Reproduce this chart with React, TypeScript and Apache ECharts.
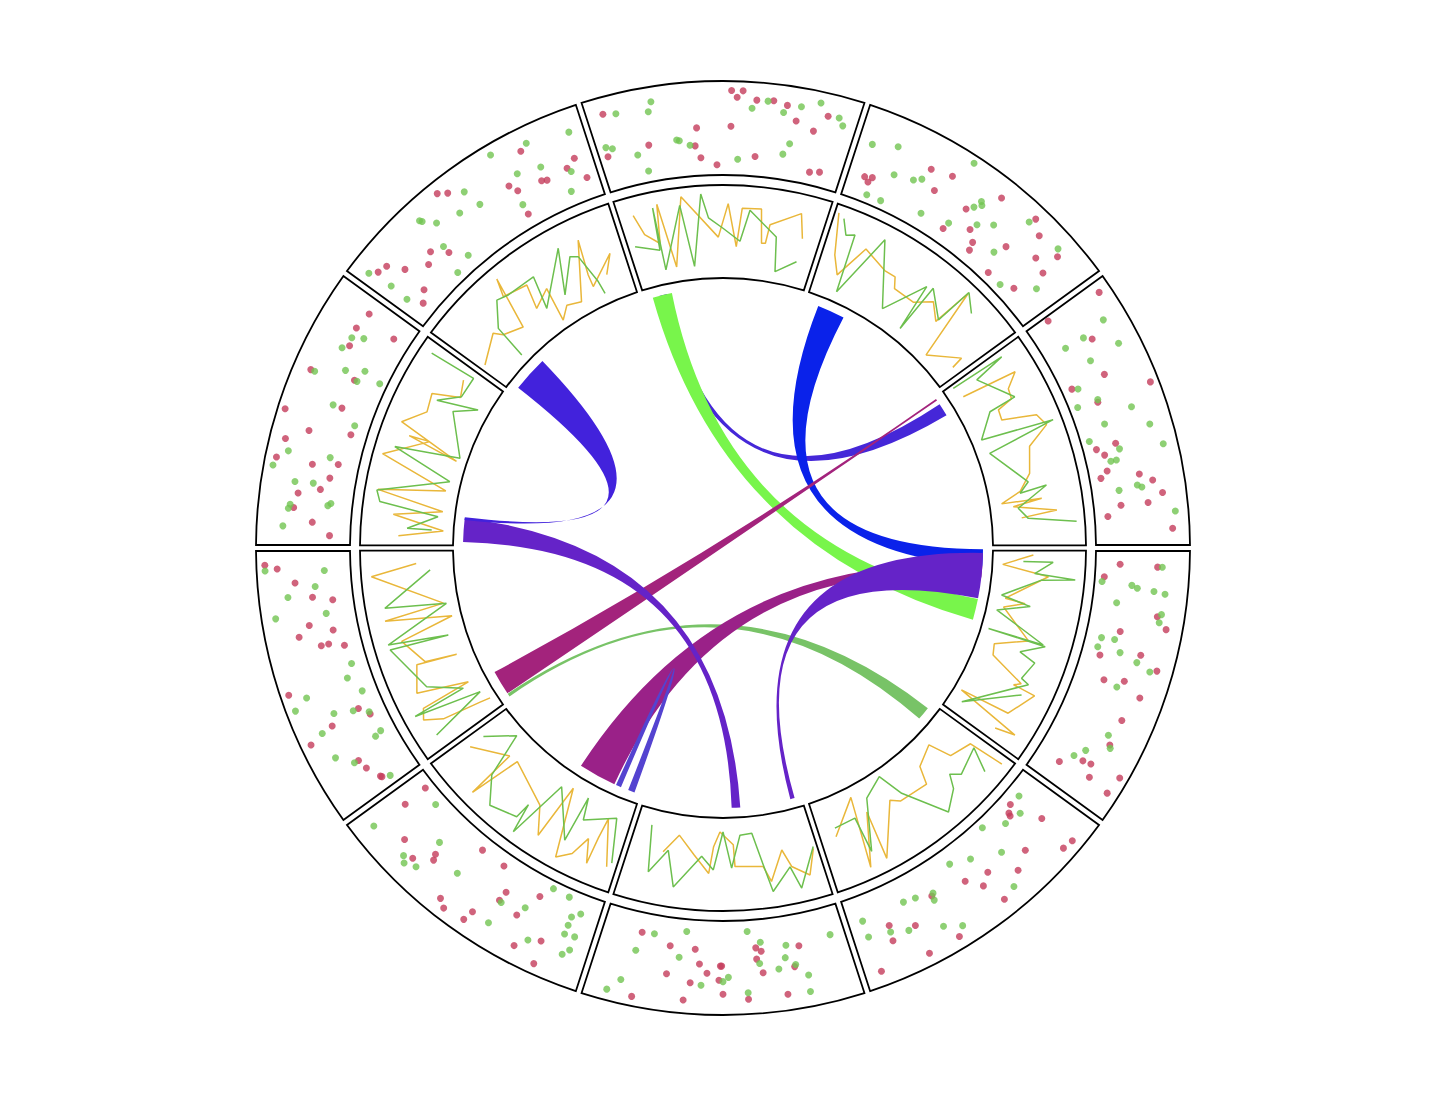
import React, { useEffect, useRef } from 'react';
import * as echarts from 'echarts';

// ---- layout of the ideogram: 10 equal segments, first one centred on top ----
const SEGMENTS = ['s1', 's2', 's3', 's4', 's5', 's6', 's7', 's8', 's9', 's10'];
const SEGMENT_LENGTH = 100;
const FIRST_SEGMENT_START = -18; // degrees, clockwise from 12 o'clock
const SEGMENT_SWEEP = 36;

// ---- outer track: scatter [position, value] per segment ----
const redDots: number[][][] = [
  [[7,0.82],[53,0.9],[57,0.9],[55,0.83],[62,0.81],[68,0.82],[73,0.79],[88,0.76],[77,0.64],[84,0.57],[40,0.51],[53,0.52],[21,0.39],[39,0.32],[4.5,0.37],[41,0.19],[47.5,0.11],[63,0.21],[86,0.135],[90,0.16]],
  [[8,0.26],[11,0.28],[10,0.22],[30,0.63],[38,0.68],[35,0.45],[57,0.79],[49,0.47],[46,0.16],[55,0.32],[59,0.23],[60,0.145],[71,0.86],[76,0.76],[70,0.43],[81,0.57],[86,0.75],[87,0.52],[72,0.1],[84,0.18]],
  [[5,0.87],[3,0.25],[18,0.545],[32,0.49],[41,0.91],[32,0.11],[41,0.31],[58.5,0.355],[59,0.14],[62,0.21],[68.5,0.2],[71,0.12],[72,0.53],[75,0.66],[80,0.745],[83,0.58],[83,0.29],[87,0.14],[93,0.82]],
  [[6.5,0.26],[7,0.66],[12,0.1],[25,0.71],[29,0.825],[33,0.35],[44,0.2],[40,0.62],[44,0.83],[53,0.32],[51,0.53],[55,0.745],[65,0.655],[75,0.65],[90,0.27],[85,0.48],[84.5,0.57],[89,0.63],[83.6,0.91],[90.4,0.88]],
  [[19,0.18],[19.5,0.21],[12,0.48],[16,0.13],[25,0.58],[15,0.86],[11,0.88],[41,0.485],[32,0.68],[50,0.415],[45.5,0.57],[42.5,0.82],[64,0.35],[84,0.42],[75,0.54],[85,0.585],[63,0.87],[75,0.87],[93,0.84]],
  [[20,0.34],[37,0.3],[35,0.34],[37,0.42],[23,0.55],[35,0.57],[50,0.78],[41,0.84],[27,0.83],[50.5,0.48],[83,0.21],[71,0.3],[61,0.31],[59,0.465],[51,0.48],[56,0.56],[71,0.6],[62,0.67],[51.5,0.63],[82,0.9],[64,0.86]],
  [[92,0.1],[92,0.375],[82,0.625],[75,0.7],[69,0.56],[70,0.5],[57,0.14],[46,0.14],[58,0.82],[55,0.88],[47,0.85],[46,0.73],[39.5,0.36],[40,0.47],[31.5,0.51],[27,0.22],[27,0.81],[19,0.64],[18,0.89]],
  [[94,0.91],[92.5,0.78],[87,0.6],[81,0.43],[79,0.22],[70.5,0.51],[67,0.27],[67,0.64],[62,0.43],[62,0.35],[60,0.19],[48,0.91],[34,0.27],[30,0.18],[32,0.6],[29,0.89],[16,0.52],[12,0.49],[6,0.4],[6.5,0.41]],
  [[93,0.545],[86,0.58],[79,0.55],[90,0.18],[65,0.81],[68,0.34],[56,0.35],[49,0.92],[44,0.61],[47,0.17],[39,0.83],[32,0.88],[32,0.49],[34,0.22],[28,0.28],[23,0.36],[20.5,0.59],[15,0.62],[10,0.41],[5,0.22]],
  [[75,0.77],[92,0.47],[88,0.4],[94,0.23],[77,0.39],[79,0.37],[65,0.505],[67,0.415],[66,0.145],[42,0.875],[45,0.81],[26,0.46],[31,0.32],[22,0.38],[11,0.7],[7.4,0.73],[14.5,0.53],[13.4,0.235],[9,0.15]],
];
const greenDots: number[][][] = [
  [[11.5,0.79],[24.5,0.84],[23,0.74],[60.5,0.72],[66,0.81],[72,0.71],[78,0.8],[84.5,0.88],[92,0.77],[94,0.7],[32,0.4],[33,0.39],[37,0.33],[4.7,0.47],[7,0.44],[16,0.31],[76,0.39],[74,0.27],[56,0.17],[19,0.12]],
  [[6.4,0.61],[15.5,0.69],[42,0.92],[18.4,0.4],[26,0.44],[28.7,0.49],[11.5,0.09],[17.8,0.09],[35,0.17],[51,0.535],[52,0.63],[53,0.6],[46.6,0.24],[56,0.405],[61,0.515],[70,0.79],[68,0.3],[84,0.81],[79,0.1],[90,0.36]],
  [[14,0.75],[16,0.47],[16,0.25],[24,0.77],[25,0.42],[33,0.17],[40,0.32],[40,0.09],[47,0.63],[50,0.3],[55,0.76],[55,0.09],[61,0.38],[65,0.26],[65,0.32],[63,0.845],[76,0.49],[77,0.535],[77,0.29],[87,0.86]],
  [[7,0.71],[14,0.08],[14.5,0.4],[15.4,0.46],[16,0.64],[16.6,0.76],[22,0.26],[24,0.75],[27,0.74],[37,0.17],[36.5,0.31],[41,0.155],[41,0.4],[43,0.6],[45,0.76],[54,0.475],[72,0.59],[76,0.67],[81,0.45],[85,0.37]],
  [[11,0.14],[16,0.27],[23,0.23],[31,0.09],[32,0.42],[43,0.26],[51,0.17],[37,0.78],[63,0.33],[64,0.4],[70,0.28],[75,0.26],[93,0.27],[93,0.45],[84.5,0.49],[78,0.555],[66,0.69],[60,0.79]],
  [[40,0.12],[7,0.3],[35,0.245],[25,0.31],[26,0.44],[22.5,0.53],[36,0.47],[29,0.55],[18.5,0.665],[48,0.6],[50,0.645],[41,0.77],[19,0.84],[78,0.2],[65,0.13],[84,0.41],[67,0.41],[87,0.75],[91,0.885],[58,0.69]],
  [[84,0.13],[93,0.78],[72,0.38],[78,0.75],[76,0.8],[72,0.74],[59,0.5],[23.5,0.08],[16,0.09],[39,0.48],[30,0.4],[39,0.735],[12,0.275],[9,0.21],[12,0.37],[12,0.47],[8,0.46],[23.5,0.69],[8,0.61],[10,0.68]],
  [[92,0.91],[91,0.28],[85,0.39],[82,0.69],[74,0.31],[75,0.85],[52,0.17],[47,0.26],[40,0.16],[45,0.74],[42,0.9],[36,0.53],[34,0.33],[31,0.18],[31,0.73],[22,0.16],[21,0.235],[21,0.72],[16,0.57],[4.6,0.32]],
  [[82,0.57],[84,0.455],[77,0.61],[65,0.765],[70,0.47],[73,0.28],[68,0.31],[71,0.08],[56,0.45],[51,0.16],[35,0.77],[29,0.9],[36,0.32],[24.5,0.64],[25,0.445],[17,0.26],[18,0.23],[16,0.66],[14.5,0.675],[8,0.72]],
  [[93.5,0.75],[78,0.82],[65,0.89],[79,0.525],[89,0.35],[70,0.575],[50,0.715],[52,0.51],[66,0.26],[44,0.565],[86,0.155],[31,0.78],[31.5,0.755],[35,0.64],[31,0.405],[36,0.16],[5,0.8],[28,0.1],[6.4,0.53],[6.1,0.31]],
];

// ---- middle track: two line series [position, value] per segment ----
const yellowLine: number[][][] = [
  [[8,0.8],[11,0.57],[17.6,0.44],[19.7,0.86],[24,0.16],[31,0.9],[47.6,0.44],[52.4,0.8],[57,0.34],[59,0.755],[68,0.765],[70,0.4],[72,0.405],[73,0.61],[86.7,0.79],[90,0.53]],
  [[3,0.91],[8,0.47],[13,0.28],[21,0.66],[34,0.55],[40,0.55],[43,0.44],[55,0.44],[62.5,0.58],[70,0.44],[72,0.9],[79,0.11],[93,0.375],[94,0.24]],
  [[10.6,0.15],[13.6,0.765],[19,0.61],[24,0.59],[26,0.41],[31.5,0.395],[36,0.76],[42,0.82],[49,0.57],[62,0.49],[70,0.35],[75,0.13],[75.4,0.565],[77.5,0.25],[82,0.71],[84,0.325]],
  [[3.6,0.435],[9.3,0.11],[14,0.61],[28,0.18],[29,0.4],[33,0.18],[47,0.53],[54,0.19],[60,0.22],[68,0.62],[70,0.55],[70.5,0.805],[83.6,0.64],[85.4,0.08],[90.7,0.825],[93,0.605]],
  [[90.6,0.43],[74.6,0.11],[81,0.88],[70.6,0.33],[72.7,0.87],[57,0.35],[52.7,0.42],[36.8,0.45],[33.3,0.26],[21.4,0.16],[17.7,0.41],[6.5,0.49],[4.9,0.89]],
  [[3.5,0.47],[8.6,0.735],[16.2,0.6],[19.4,0.405],[27,0.72],[30,0.55],[44,0.525],[44.5,0.29],[51.7,0.15],[55,0.31],[57,0.6],[65,0.41],[74,0.22],[81,0.425]],
  [[94,0.555],[77,0.3],[77,0.86],[72,0.285],[48.5,0.49],[41,0.77],[38.7,0.14],[29,0.875],[23,0.76],[19,0.54],[15,0.79],[14.6,0.49],[13.7,0.26],[5.7,0.745]],
  [[92,0.4],[87,0.89],[69,0.16],[66,0.815],[61,0.1],[55,0.695],[42,0.525],[39.6,0.18],[42,0.62],[29.5,0.74],[23,0.19],[21.8,0.75],[17,0.81],[12.7,0.62],[10,0.19],[9,0.075]],
  [[91.4,0.42],[82.8,0.35],[77.7,0.64],[68.6,0.6],[59.6,0.81],[50,0.11],[54.7,0.68],[55.4,0.45],[43,0.895],[32.3,0.14],[26.8,0.86],[20.5,0.135],[16.2,0.66],[9.7,0.11],[6,0.59]],
  [[4.3,0.325],[19.6,0.48],[22.6,0.39],[33,0.3],[38.7,0.875],[35.7,0.685],[48,0.625],[44.8,0.36],[55,0.47],[52.7,0.09],[59,0.2],[67,0.15],[80,0.755],[77,0.37],[76.7,0.235],[91.7,0.49],[86,0.29]],
];
const greenLine: number[][][] = [
  [[4.8,0.47],[16.8,0.37],[17.5,0.83],[17.8,0.15],[30,0.81],[34,0.14],[40,0.91],[43,0.65],[50,0.535],[58.8,0.4],[62.7,0.74],[77,0.49],[79.6,0.12],[90,0.275]],
  [[6,0.87],[9.6,0.71],[13.5,0.75],[16.4,0.11],[27,0.84],[43.5,0.19],[55.4,0.66],[58,0.13],[58.3,0.69],[70.5,0.47],[72,0.91],[79.6,0.77]],
  [[3.5,0.11],[4.3,0.73],[6.9,0.37],[23.9,0.63],[24.9,0.32],[37,0.11],[41,0.905],[45.7,0.14],[66,0.455],[71,0.345],[69.4,0.64],[78.7,0.3],[84.6,0.395],[88,0.91]],
  [[7.2,0.33],[6.9,0.65],[13,0.46],[14.4,0.9],[16,0.54],[26.6,0.135],[30,0.46],[35.4,0.115],[46.8,0.695],[46.8,0.08],[47.3,0.72],[53.5,0.48],[56.3,0.67],[65.5,0.6],[67,0.695],[91,0.15],[72.8,0.675]],
  [[89.5,0.34],[77.7,0.33],[77.5,0.73],[67,0.2],[54.6,0.075],[49.8,0.36],[37.5,0.83],[28.4,0.68],[24.8,0.54],[20.8,0.63],[7,0.545],[12.5,0.8]],
  [[3.3,0.45],[13.8,0.85],[17,0.6],[26.9,0.83],[29.9,0.53],[34,0.18],[40.6,0.19],[45.7,0.54],[50,0.15],[54.8,0.56],[61,0.42],[73.2,0.78],[78.5,0.4],[86.1,0.67],[90,0.17]],
  [[93.9,0.375],[82.5,0.095],[76.5,0.58],[67.2,0.83],[54.2,0.74],[53.2,0.56],[51.3,0.89],[44.6,0.195],[29,0.67],[28.6,0.15],[25.5,0.385],[9.6,0.22],[4,0.69]],
  [[88.1,0.255],[71.9,0.79],[68.6,0.13],[55.1,0.845],[51.2,0.195],[52.7,0.84],[30.3,0.615],[21.2,0.27],[20.3,0.87],[15,0.13],[7.9,0.775]],
  [[93.8,0.865],[95,0.34],[83.5,0.345],[75.9,0.56],[81.7,0.12],[74.5,0.35],[52.3,0.085],[47.7,0.79],[37.9,0.12],[26.4,0.87],[21.4,0.82],[17.4,0.18],[9.9,0.5],[9.8,0.235]],
  [[21.7,0.095],[23.2,0.475],[32.3,0.705],[38,0.665],[52.9,0.655],[49.1,0.295],[70,0.775],[61.2,0.305],[73,0.635],[76.6,0.595],[80.3,0.26],[81,0.115]],
];

// ---- chords: [segment, start, end] -> [segment, start, end], drawn in this order ----
const chordSource: number[][] = [
  [2, 6.7, 14.7], [0, 6.5, 18.5], [1, 9.7, 26.7], [2, 2.8, 3.9], [7, 3.3, 5.3],
  [6, 18.6, 42], [6, 5.3, 9.4], [3, 3, 31], [8, 3.6, 18.3], [9, 5.6, 27.8],
];
const chordTarget: number[][] = [
  [0, 10.5, 15.5], [3, 31.5, 44.5], [3, 0.8, 11.1], [7, 5.6, 20.8], [4, 5.6, 13.9],
  [3, 11.1, 18.1], [6, 14.2, 17.5], [5, 5.6, 8.3], [5, 39.4, 44.7], [8, 17.2, 18.9],
];
const chordColors = [
  '#4527d8', '#78f54b', '#0a22ea', '#a3237c', '#78c367',
  '#9a2188', '#5443d0', '#6523c8', '#6523c8', '#4222dc',
];

const RED = '#c43c5b';
const GREEN_DOT = '#72c451';
const YELLOW = '#e9b73a';
const GREEN_LINE = '#6dbf4e';

function angleOf(seg: number, pos: number): number {
  const a = FIRST_SEGMENT_START + seg * SEGMENT_SWEEP + (pos / SEGMENT_LENGTH) * SEGMENT_SWEEP;
  return ((a % 360) + 360) % 360;
}

function boxSeries(polarIndex: number, halfGap: number) {
  return {
    type: 'custom',
    coordinateSystem: 'polar',
    polarIndex,
    silent: true,
    data: SEGMENTS.map((_, k) => [0, angleOf(k, 0), angleOf(k, 0) + SEGMENT_SWEEP]),
    renderItem: (params: any, api: any) => {
      const a0 = api.value(1);
      const a1 = api.value(2);
      const ro = api.coord([1, a0])[2];
      const ri = api.coord([0, a0])[2];
      const dOut = (Math.asin(halfGap / ro) * 180) / Math.PI;
      const dIn = (Math.asin(halfGap / ri) * 180) / Math.PI;
      const p1 = api.coord([1, a0 + dOut]);
      const p2 = api.coord([1, a1 - dOut]);
      const p3 = api.coord([0, a1 - dIn]);
      const p4 = api.coord([0, a0 + dIn]);
      const f = (p: number[]) => `${p[0].toFixed(2)} ${p[1].toFixed(2)}`;
      const d = `M${f(p1)} A${ro} ${ro} 0 0 1 ${f(p2)} L${f(p3)} A${ri} ${ri} 0 0 0 ${f(p4)} Z`;
      return {
        type: 'path',
        shape: { pathData: d },
        style: { fill: 'none', stroke: '#000', lineWidth: 1.8 },
      };
    },
  };
}

function chordSeries() {
  return {
    type: 'custom',
    coordinateSystem: 'polar',
    polarIndex: 2,
    silent: true,
    data: chordSource.map((s, i) => {
      const t = chordTarget[i];
      return [1, angleOf(s[0], s[1]), angleOf(s[0], s[2]), angleOf(t[0], t[1]), angleOf(t[0], t[2]), i];
    }),
    renderItem: (params: any, api: any) => {
      const s0 = api.value(1), s1 = api.value(2), t0 = api.value(3), t1 = api.value(4);
      const ci = api.value(5);
      const c = api.coord([0, 0]);
      const ps0 = api.coord([1, s0]);
      const ps1 = api.coord([1, s1]);
      const pt0 = api.coord([1, t0]);
      const pt1 = api.coord([1, t1]);
      const R = ps0[2];
      const f = (p: number[]) => `${p[0].toFixed(2)} ${p[1].toFixed(2)}`;
      const large = (a: number, b: number) => ((((b - a) % 360) + 360) % 360 > 180 ? 1 : 0);
      const d =
        `M${f(ps0)} A${R} ${R} 0 ${large(s0, s1)} 1 ${f(ps1)} ` +
        `Q${f(c)} ${f(pt0)} A${R} ${R} 0 ${large(t0, t1)} 1 ${f(pt1)} ` +
        `Q${f(c)} ${f(ps0)} Z`;
      return { type: 'path', shape: { pathData: d }, style: { fill: chordColors[ci], stroke: 'none' } };
    },
  };
}

function dotSeries(dots: number[][][], color: string) {
  const data: number[][] = [];
  dots.forEach((seg, k) => seg.forEach(([pos, v]) => data.push([v, angleOf(k, pos)])));
  return {
    type: 'scatter',
    coordinateSystem: 'polar',
    polarIndex: 0,
    silent: true,
    symbol: 'circle',
    symbolSize: 7,
    itemStyle: { color },
    data,
  };
}

function lineSeries(lines: number[][][], color: string) {
  return lines.map((seg, k) => ({
    type: 'line',
    coordinateSystem: 'polar',
    polarIndex: 1,
    silent: true,
    showSymbol: false,
    symbol: 'none',
    lineStyle: { color, width: 1.5 },
    data: seg.map(([pos, v]) => [v, angleOf(k, pos)]),
  }));
}

export default function App() {
  const ref = useRef<HTMLDivElement>(null);
  useEffect(() => {
    if (!ref.current) return;
    const chart = echarts.init(ref.current, null, { renderer: 'svg' });
    const hidden = { show: false, axisLine: { show: false }, axisTick: { show: false }, axisLabel: { show: false }, splitLine: { show: false }, splitArea: { show: false } };
    chart.setOption({
      animation: false,
      backgroundColor: '#ffffff',
      polar: [
        { center: ['50%', '50%'], radius: [373, 467] },
        { center: ['50%', '50%'], radius: [270, 363] },
        { center: ['50%', '50%'], radius: [0, 260] },
      ],
      angleAxis: [0, 1, 2].map((i) => ({ polarIndex: i, type: 'value', min: 0, max: 360, startAngle: 90, clockwise: true, ...hidden })),
      radiusAxis: [0, 1, 2].map((i) => ({ polarIndex: i, type: 'value', min: 0, max: 1, ...hidden })),
      series: [
        boxSeries(0, 3),
        boxSeries(1, 2.7),
        dotSeries(redDots, RED),
        dotSeries(greenDots, GREEN_DOT),
        ...lineSeries(yellowLine, YELLOW),
        ...lineSeries(greenLine, GREEN_LINE),
        chordSeries(),
      ],
    });
    return () => chart.dispose();
  }, []);
  return <div ref={ref} style={{ width: 1430, height: 1080 }} />;
}
